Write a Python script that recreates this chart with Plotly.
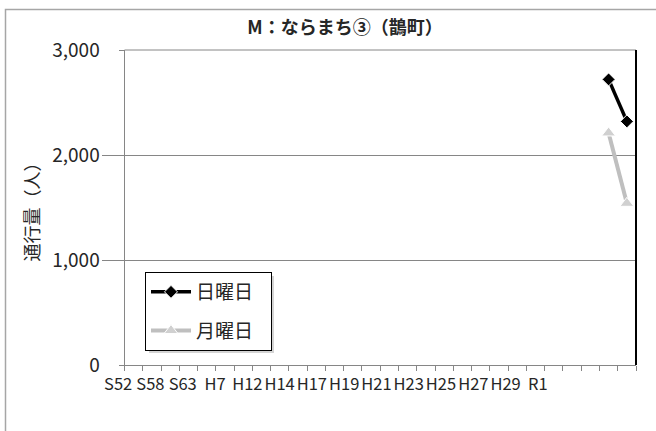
import plotly.graph_objects as go

# axis labels shown under the chart (every other survey year)
year_labels = ["S52", "S58", "S63", "H7", "H12", "H14", "H17", "H19",
               "H21", "H23", "H25", "H27", "H29", "R1"]
n_slots = 28            # category slots on the x axis
survey_slots = [26, 27]  # slots of the two surveyed years

sunday = [2720, 2320]
monday = [2210, 1540]

y_ticks = [0, 1000, 2000, 3000]
y_ticktext = ["0", "1,000", "2,000", "3,000"]

FONT = "Noto Sans CJK JP"
W, H = 656, 431
L, R, T, B = 100, 20, 50, 66
pw, ph = W - L - R, H - T - B


def px(x):   # pixel -> paper x
    return (x - L) / pw


def py(y):   # pixel -> paper y
    return (H - B - y) / ph


fig = go.Figure()

fig.add_trace(go.Scatter(
    x=survey_slots, y=sunday, name="日曜日&nbsp;&nbsp;&nbsp;", mode="lines+markers",
    line=dict(color="black", width=3.5),
    marker=dict(symbol="diamond", size=10, color="black",
                line=dict(color="white", width=1)),
    legendgroup="a"))
fig.add_trace(go.Scatter(
    x=survey_slots, y=monday, name="月曜日&nbsp;&nbsp;&nbsp;", mode="lines+markers",
    line=dict(color="#BFBFBF", width=4),
    marker=dict(symbol="triangle-up", size=12, color="#D0D0D0",
                line=dict(color="white", width=1)),
    legendgroup="b"))

# invisible trace carrying the label axis
fig.add_trace(go.Scatter(x=year_labels, y=[None] * len(year_labels),
                         xaxis="x2", showlegend=False, hoverinfo="skip"))

fig.update_layout(
    width=W, height=H,
    margin=dict(l=L, r=R, t=T, b=B, autoexpand=False),
    paper_bgcolor="white", plot_bgcolor="rgba(0,0,0,0)",
    font=dict(family=FONT, color="#262626"),
    title=dict(text="<b>M：ならまち③（鵲町）</b>", x=345 / W, y=1 - 28 / H,
               xanchor="center", yanchor="middle",
               font=dict(size=18, color="#262626")),
    xaxis=dict(domain=[px(124.5), 1], range=[-0.5, n_slots - 0.5],
               tickvals=[i - 0.5 for i in range(n_slots + 1)],
               showticklabels=False, ticks="outside", ticklen=5,
               tickcolor="#868686", showline=True, linecolor="#868686",
               showgrid=False, zeroline=False, automargin=False),
    xaxis2=dict(domain=[px(102), px(554)], anchor="y",
                type="category", range=[-0.5, len(year_labels) - 0.5],
                showline=False, showgrid=False, ticks="", tickangle=0,
                tickfont=dict(size=16.5, color="#262626"),
                ticklabelstandoff=7, automargin=False),
    yaxis=dict(range=[0, 3000], tickvals=y_ticks, ticktext=y_ticktext,
               ticks="outside", ticklen=5, tickcolor="#868686",
               showline=True, linecolor="#868686",
               gridcolor="#868686", gridwidth=1, zeroline=False,
               tickfont=dict(size=19), ticklabelstandoff=15, automargin=False,
               title=dict(text="通行量（人）", standoff=7,
                          font=dict(size=18, color="#262626"))),
    legend=dict(x=px(145), y=py(272), xanchor="left", yanchor="top",
                bgcolor="white", bordercolor="black", borderwidth=1,
                font=dict(size=19), tracegroupgap=11,
                itemwidth=40),
    showlegend=True,
    shapes=[
        # outer chart border (cut by the image edge)
        dict(type="rect", xref="paper", yref="paper",
             x0=px(5.5), x1=px(720), y0=py(480), y1=py(9.5),
             line=dict(color="#A6A6A6", width=1.5), layer="below"),
        # top gridline at the range end
        dict(type="line", xref="paper", yref="paper",
             x0=px(124.5), x1=1, y0=1, y1=1,
             line=dict(color="#868686", width=1)),
        # right border of plot area
        dict(type="line", xref="paper", yref="paper",
             x0=1, x1=1, y0=0, y1=1, line=dict(color="black", width=2)),
        # legend shadow
        dict(type="rect", xref="paper", yref="paper",
             x0=px(149), x1=px(274), y0=py(353), y1=py(276),
             fillcolor="#D4D4D4", line=dict(width=0), layer="above"),
    ],
)

fig.write_html("out.html", config={"displayModeBar": False},
               post_script="document.body.style.margin='0';")
